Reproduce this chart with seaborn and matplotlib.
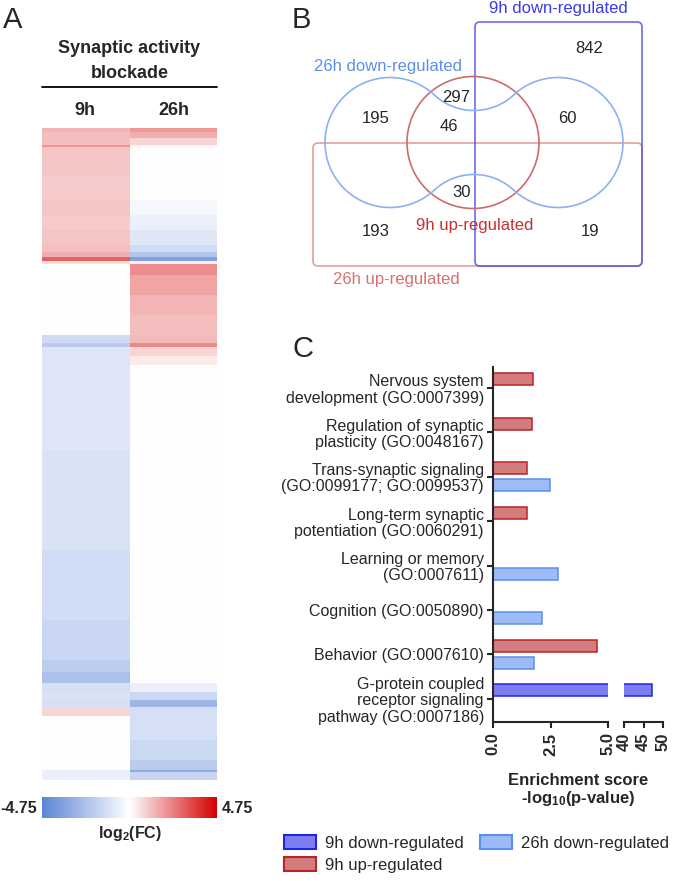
import numpy as np
import pandas as pd
import seaborn as sns
import matplotlib.pyplot as plt
from matplotlib.colors import LinearSegmentedColormap
from matplotlib.patches import FancyBboxPatch, Circle, Patch

sns.set_style('ticks')
plt.rcParams['font.family'] = ['Liberation Sans', 'DejaVu Sans']
plt.rcParams['mathtext.fontset'] = 'custom'
plt.rcParams['mathtext.rm'] = 'Liberation Sans'
plt.rcParams['mathtext.bf'] = 'Liberation Sans:bold'
plt.rcParams['mathtext.it'] = 'Liberation Sans:italic'

W, H = 677, 881

# --- A : log2(FC) heatmap, genes grouped in sorted blocks (rows per block) ---
block_rows = [4, 6, 7, 2, 28, 25, 15, 15, 15, 7, 5, 4, 3, 11, 20, 20, 20, 8, 4, 9, 9,
              85, 100, 70, 40, 12, 11, 9, 8, 7, 9, 24, 20, 10, 2, 8]
fc_9h = [1.4, 1.2, 1.2, 2.0, 1.1, 1.0, 1.1, 1.0, 1.1, 1.2, 1.5, 2.9, 0.6, 0, 0, 0, 0,
         -1.4, -2.0, -1.0, -1.0, -0.95, -1.1, -1.3, -1.55, -1.9, -2.4, -1.2, -1.1, -1.2,
         0.8, 0, 0, 0, -0.6, -0.6]
fc_26h = [1.9, 1.5, 0.8, 0.2, 0, 0, -0.3, -0.6, -0.9, -1.4, -2.2, -3.6, 0.3, 2.1, 1.7,
          1.4, 1.2, 1.3, 2.2, 0.8, 0.4, 0, 0, 0, 0, 0, 0, -0.6, -1.5, -2.8, -1.2, -1.2,
          -1.5, -2.0, -3.3, -1.6]
time_points = ['9h', '26h']
fc_limit = 4.75

# --- B : venn counts ---
venn_counts = ['842', '297', '195', '46', '60', '30', '193', '19']
venn_sets = ['9h down-regulated', '26h down-regulated', '9h up-regulated', '26h up-regulated']

# --- C : GO enrichment, -log10(p) ---
go_terms = ['Nervous system\ndevelopment (GO:0007399)',
            'Regulation of synaptic\nplasticity (GO:0048167)',
            'Trans-synaptic signaling\n(GO:0099177; GO:0099537)',
            'Long-term synaptic\npotentiation (GO:0060291)',
            'Learning or memory\n(GO:0007611)',
            'Cognition (GO:0050890)',
            'Behavior (GO:0007610)',
            'G-protein coupled\nreceptor signaling\npathway (GO:0007186)']
up_9h = [1.75, 1.68, 1.46, 1.46, np.nan, np.nan, 4.54, np.nan]
down_9h = [np.nan, np.nan, np.nan, np.nan, np.nan, np.nan, np.nan, 47.2]
down_26h = [np.nan, np.nan, 2.48, np.nan, 2.81, 2.12, 1.78, np.nan]
series_names = ['9h down-regulated', '9h up-regulated', '26h down-regulated']
face = {'9h down-regulated': '#7c7df0', '9h up-regulated': '#d37c7e', '26h down-regulated': '#9dbcf7'}
edge = {'9h down-regulated': '#2224e3', '9h up-regulated': '#b8232a', '26h down-regulated': '#5b8ef0'}


def box(x0, y0, x1, y1):
    # pixel box -> figure fraction
    return [x0 / W, 1 - y1 / H, (x1 - x0) / W, (y1 - y0) / H]


fig = plt.figure(figsize=(W / 100, H / 100), dpi=100)

# ---------- A ----------
hm = pd.DataFrame({time_points[0]: np.repeat(fc_9h, block_rows),
                   time_points[1]: np.repeat(fc_26h, block_rows)})
cmap = LinearSegmentedColormap.from_list('fc', ['#5b84d6', '#ffffff', '#d40000'])
ax_hm = fig.add_axes(box(42, 128, 217, 780))
cax = fig.add_axes(box(42, 797, 217, 818))
sns.heatmap(hm, ax=ax_hm, cmap=cmap, vmin=-fc_limit, vmax=fc_limit, cbar_ax=cax,
            cbar_kws={'orientation': 'horizontal', 'ticks': []},
            xticklabels=False, yticklabels=False)
ax_hm.collections[0].colorbar.outline.set_visible(False)

# ---------- C ----------
rows = []
for i, term in enumerate(go_terms):
    for s, slot, vals in [('9h up-regulated', '9h', up_9h), ('9h down-regulated', '9h', down_9h),
                          ('26h down-regulated', '26h', down_26h)]:
        if not np.isnan(vals[i]):
            rows.append({'term': term, 'series': s, 'slot': slot, 'score': vals[i]})
go_df = pd.DataFrame(rows)
lookup = {(r.slot, go_terms.index(r.term)): r.series for r in go_df.itertuples()}

ax1 = fig.add_axes(box(493, 367, 608, 722))
ax2 = fig.add_axes(box(624, 367, 663, 722))
for ax in (ax1, ax2):
    sns.barplot(data=go_df, x='score', y='term', hue='slot', hue_order=['9h', '26h'],
                order=go_terms, orient='h', width=0.76, gap=0.29, errorbar=None,
                legend=False, linewidth=1.1, ax=ax)
    for cont, slot in zip(ax.containers, ['9h', '26h']):
        for bar in cont:
            idx = int(round(bar.get_y() + bar.get_height() / 2))
            s = lookup.get((slot, idx))
            if s:
                bar.set_facecolor(face[s])
                bar.set_edgecolor(edge[s])
    ax.set_ylim(7.52, -0.47)
    ax.set_xlabel('')
    ax.set_ylabel('')
    sns.despine(ax=ax)
    ax.spines['bottom'].set_linewidth(1.5)
    ax.tick_params(axis='x', length=4, width=1.5, labelsize=12)

ax1.set_xlim(0, 5)
ax1.set_xticks([0, 2.5, 5])
ax1.set_xticklabels(['0.0', '2.5', '5.0'], rotation=90, fontweight='bold')
ax1.spines['left'].set_linewidth(1.5)
ax1.tick_params(axis='y', length=4.5, width=1.5, labelsize=11.5, pad=2)
for lab in ax1.get_yticklabels():
    lab.set_linespacing(1.1)

ax2.set_xlim(40, 50)
ax2.set_xticks([40, 45, 50])
ax2.set_xticklabels(['40', '45', '50'], rotation=90, fontweight='bold')
ax2.spines['left'].set_visible(False)
ax2.set_yticks([])

handles = [Patch(facecolor=face[s], edgecolor=edge[s], linewidth=1.5, label=s) for s in series_names]
fig.legend(handles=handles, ncol=2, loc='upper left', bbox_to_anchor=(284 / W, 1 - 835 / H),
           frameon=False, fontsize=12, handlelength=1.9, handleheight=0.9, handletextpad=0.55,
           columnspacing=1.0, labelspacing=0.4, borderpad=0, borderaxespad=0)

# ---------- overlay: labels, venn ----------
ov = fig.add_axes([0, 0, 1, 1])
ov.set_xlim(0, W)
ov.set_ylim(H, 0)
ov.axis('off')

for letter, x, y in [('A', 3, 28), ('B', 292, 28), ('C', 292, 357)]:
    ov.text(x, y, letter, fontsize=21, va='baseline')

ov.text(129.5, 53, 'Synaptic activity', fontsize=13, fontweight='bold', ha='center', va='baseline')
ov.text(129.5, 78, 'blockade', fontsize=13, fontweight='bold', ha='center', va='baseline')
ov.plot([42, 217], [87, 87], color='black', lw=1.3)
ov.text(85, 115, time_points[0], fontsize=13, fontweight='bold', ha='center', va='baseline')
ov.text(174, 115, time_points[1], fontsize=13, fontweight='bold', ha='center', va='baseline')
ov.text(37, 813, f'-{fc_limit}', fontsize=11.5, fontweight='bold', ha='right', va='baseline')
ov.text(222, 813, f'{fc_limit}', fontsize=11.5, fontweight='bold', ha='left', va='baseline')
ov.text(130, 838, r'log$_{\mathbf{2}}$(FC)', fontsize=11.5, fontweight='bold', ha='center', va='baseline')

ov.text(578, 785, 'Enrichment score', fontsize=12, fontweight='bold', ha='center', va='baseline')
ov.text(578, 803, r'-log$_{\mathbf{10}}$(p-value)', fontsize=12, fontweight='bold', ha='center', va='baseline')

# venn shapes
ov.add_patch(FancyBboxPatch((313, 143), 329, 123, boxstyle='round,pad=0,rounding_size=5',
                            fill=False, ec='#e09494', lw=1.2, alpha=0.9))
ov.add_patch(FancyBboxPatch((475, 22), 167, 244, boxstyle='round,pad=0,rounding_size=5',
                            fill=False, ec='#5050e6', lw=1.2, alpha=0.85))
ov.add_patch(Circle((473, 142.5), 66, fill=False, ec='#cd6b6b', lw=1.2))


def arc(cx, cy, rad, a0, a1):
    t = np.radians(np.linspace(a0, a1, 90))
    return cx + rad * np.cos(t), cy - rad * np.sin(t)


mx, cy, hw, rad, waist = 474, 142.5, 84, 65, 32
d = (hw ** 2 - (rad - waist) ** 2) / (2 * (rad - waist))
rc = d - waist
a = np.degrees(np.arctan2(d, hw))
for cx, ccy, rr, a0, a1 in [(mx - hw, cy, rad, a, 360 - a), (mx, cy + d, rc, a, 180 - a),
                            (mx + hw, cy, rad, -(180 - a), 180 - a), (mx, cy - d, rc, a - 180, -a)]:
    xs, ys = arc(cx, ccy, rr, a0, a1)
    ov.plot(xs, ys, color='#8cb0f2', lw=1.2)

count_xy = [(589.5, 53), (456, 102), (376, 123), (448.5, 131), (567, 123), (462, 197), (376, 236), (590, 236)]
for txt, (x, y) in zip(venn_counts, count_xy):
    ov.text(x, y, txt, fontsize=12, ha='center', va='baseline')

set_xy = [(558.5, 13), (388, 70.5), (474.5, 230), (396, 284)]
set_col = ['#3b3be3', '#5b8fe8', '#c8302f', '#d8706f']
for txt, (x, y), c in zip(venn_sets, set_xy, set_col):
    ov.text(x, y, txt, fontsize=12, ha='center', va='baseline', color=c)

fig.savefig('out.png', dpi=100)
